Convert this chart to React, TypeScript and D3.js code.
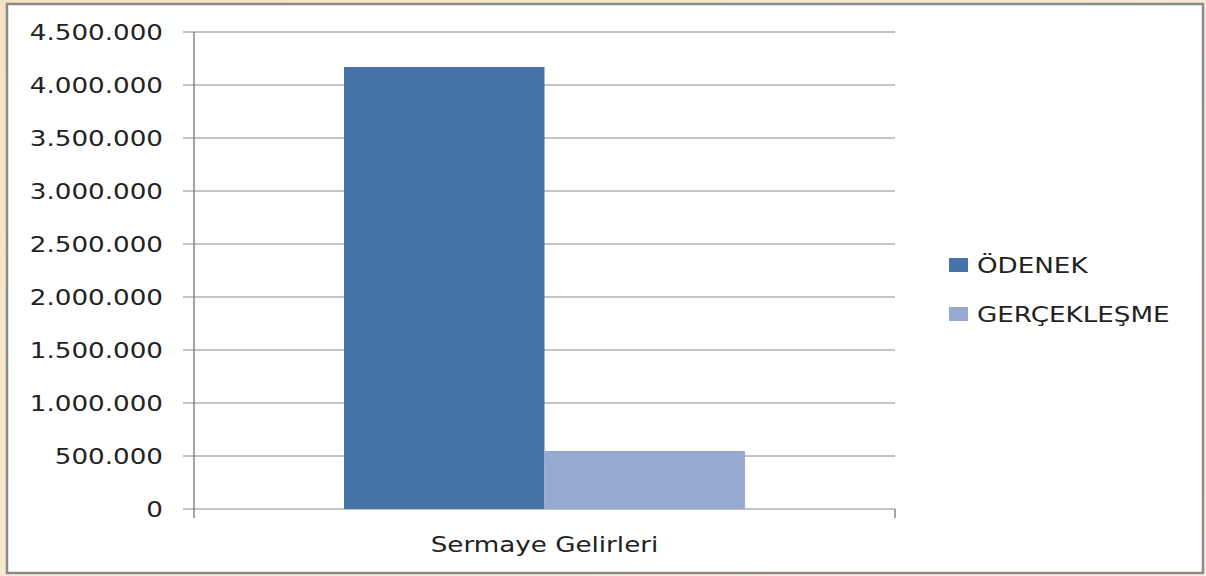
import React, { useRef, useEffect } from "react";
import * as d3 from "d3";

const categories = ["Sermaye Gelirleri"];
const seriesNames = ["ÖDENEK", "GERÇEKLEŞME"];
const odenek = [4170000];
const gerceklesme = [547000];
const tickValues = [0, 500000, 1000000, 1500000, 2000000, 2500000, 3000000, 3500000, 4000000, 4500000];
const seriesColors = ["#4672A7", "#95A9D1"];

const W = 1206;
const H = 576;
const FONT = "'DejaVu Sans', Verdana, sans-serif";
const STRETCH = 1.19;

const fmt = (v: number) => d3.format(",")(v).replace(/,/g, ".");

const App: React.FC = () => {
  const svgRef = useRef<SVGSVGElement>(null);

  useEffect(() => {
    const svg = d3.select(svgRef.current);
    svg.selectAll("*").remove();

    // beige frame around the white chart area
    const grad = svg.append("defs").append("linearGradient").attr("id", "bg").attr("x1", 0).attr("y1", 0).attr("x2", 1).attr("y2", 1);
    grad.append("stop").attr("offset", "0%").attr("stop-color", "#F3E3C3");
    grad.append("stop").attr("offset", "100%").attr("stop-color", "#FBF1DE");
    svg.append("rect").attr("width", W).attr("height", H).attr("fill", "url(#bg)");
    svg.append("rect")
      .attr("x", 7).attr("y", 4).attr("width", 1196).attr("height", 569)
      .attr("fill", "#fff").attr("stroke", "#8a8a8a").attr("stroke-width", 2.5);

    const left = 194, right = 895, top = 32, bottom = 509;

    const y = d3.scaleLinear().domain([0, 4500000]).range([bottom, top]);
    const x0 = d3.scaleBand().domain(categories).range([left, right]).paddingInner(0).paddingOuter(0.374);
    const x1 = d3.scaleBand().domain(seriesNames).range([0, x0.bandwidth()]);

    // gridlines + left ticks
    svg.append("g").selectAll("line").data(tickValues).enter().append("line")
      .attr("x1", left - 11).attr("x2", right)
      .attr("y1", d => y(d)).attr("y2", d => y(d))
      .attr("stroke", "#c4c4c4").attr("stroke-width", 2);

    // tick labels
    svg.append("g").selectAll("text").data(tickValues).enter().append("text")
      .attr("transform", d => `translate(163,${y(d)}) scale(${STRETCH},1)`)
      .attr("text-anchor", "end")
      .attr("dy", "0.36em")
      .style("font-family", FONT).style("font-size", "22px").attr("fill", "#222")
      .text(d => fmt(d));

    // bars
    const series = [odenek, gerceklesme];
    categories.forEach((c, ci) => {
      seriesNames.forEach((s, si) => {
        const v = series[si][ci];
        svg.append("rect")
          .attr("x", (x0(c) ?? 0) + (x1(s) ?? 0))
          .attr("y", y(v))
          .attr("width", x1.bandwidth())
          .attr("height", y(0) - y(v))
          .attr("fill", seriesColors[si]);
      });
    });

    // axes
    svg.append("line").attr("x1", left).attr("x2", left).attr("y1", top).attr("y2", bottom + 9)
      .attr("stroke", "#868686").attr("stroke-width", 1.5);
    svg.append("line").attr("x1", right).attr("x2", right).attr("y1", bottom).attr("y2", bottom + 9)
      .attr("stroke", "#868686").attr("stroke-width", 1.5);

    // category label
    svg.append("g").selectAll("text").data(categories).enter().append("text")
      .attr("transform", d => `translate(${(x0(d) ?? 0) + x0.bandwidth() / 2},552) scale(${STRETCH},1)`)
      .attr("text-anchor", "middle")
      .style("font-family", FONT).style("font-size", "22px").attr("fill", "#222")
      .text(d => d);

    // legend
    const legend = svg.append("g");
    seriesNames.forEach((s, i) => {
      const cy = 265 + i * 49;
      legend.append("rect").attr("x", 949).attr("y", cy - 7).attr("width", 19).attr("height", 14)
        .attr("fill", seriesColors[i]);
      legend.append("text")
        .attr("transform", `translate(977,${cy}) scale(${STRETCH},1)`)
        .attr("dy", "0.36em")
        .style("font-family", FONT).style("font-size", "22px").attr("fill", "#222")
        .text(s);
    });
  }, []);

  return (
    <svg ref={svgRef} width={W} height={H}
      style={{ position: "absolute", left: 0, top: 0, display: "block" }} />
  );
};

export default App;
